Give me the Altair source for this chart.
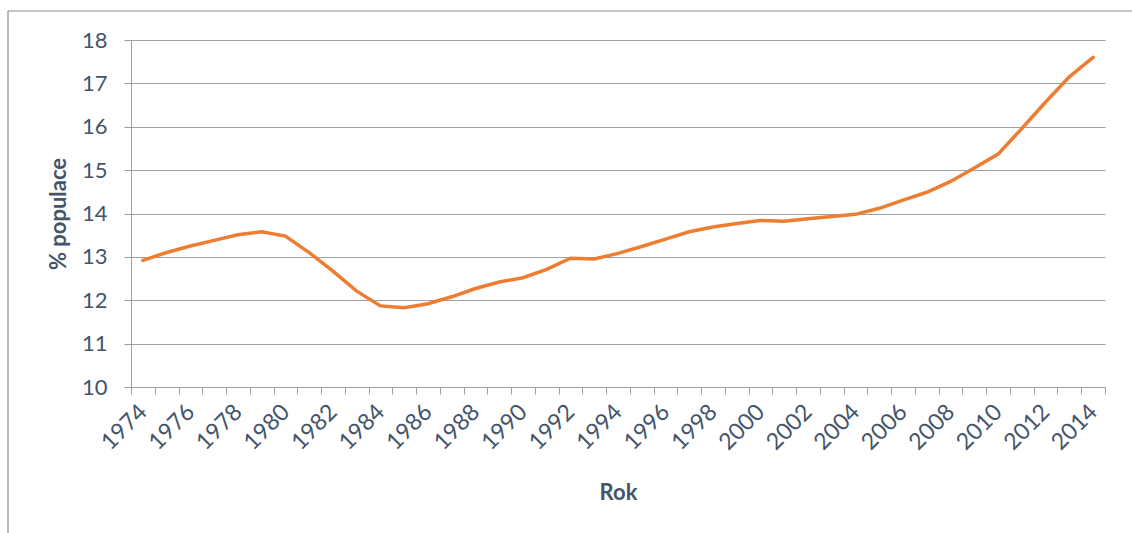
import altair as alt
import pandas as pd

# Share of population (%) by year
years = list(range(1974, 2015))
share = [
    12.92, 13.10, 13.25, 13.38, 13.51, 13.58, 13.48, 13.10, 12.67, 12.21,
    11.87, 11.83, 11.92, 12.08, 12.27, 12.42, 12.52, 12.71, 12.97, 12.95,
    13.08, 13.24, 13.41, 13.58, 13.69, 13.77, 13.84, 13.82, 13.88, 13.93,
    13.98, 14.12, 14.31, 14.49, 14.74, 15.05, 15.37, 15.96, 16.57, 17.15,
    17.60,
]
y_ticks = [10, 11, 12, 13, 14, 15, 16, 17, 18]

df = pd.DataFrame({"rok": years, "podil": share})

TEXT = "#44546A"
GRID = "#A0A0A0"
LINE = "#ED7D31"
FONT = "Lato"

x_enc = alt.X(
    "rok:O",
    title="Rok",
    bandPosition=0.5,
    scale=alt.Scale(type="band", paddingInner=0, paddingOuter=0),
    axis=alt.Axis(
        tickBand="extent",
        labelExpr="datum.value % 2 == 0 ? datum.label : ''",
        labelAngle=-45,
        labelAlign="right",
        labelBaseline="middle",
        labelOverlap=False,
        labelBound=False,
        labelPadding=14,
        labelFontSize=23,
        labelColor=TEXT,
        labelFont=FONT,
        tickSize=7,
        tickColor=GRID,
        domainColor=GRID,
        grid=False,
        titleFont=FONT,
        titleFontSize=22,
        titleFontWeight="bold",
        titleColor=TEXT,
        titleY=105,
        titleBaseline="middle",
    ),
)

y_enc = alt.Y(
    "podil:Q",
    title="% populace",
    scale=alt.Scale(domain=[10, 18], nice=False, zero=False),
    axis=alt.Axis(
        values=y_ticks,
        grid=True,
        gridColor=GRID,
        gridWidth=1.2,
        tickSize=7,
        tickColor=GRID,
        domainColor=GRID,
        labelPadding=17,
        labelFontSize=22,
        labelColor=TEXT,
        labelFont=FONT,
        titleFont=FONT,
        titleFontSize=22,
        titleFontWeight="bold",
        titleColor=TEXT,
        titleX=-73,
        titleBaseline="middle",
    ),
)

line = alt.Chart(df).mark_line(color=LINE, strokeWidth=3.5, strokeCap="round").encode(
    x=x_enc, y=y_enc
)

# Outer frame of the chart area (top and left edges)
frame_df = pd.DataFrame({"k": [0]})
frame_top = alt.Chart(frame_df).mark_rule(color="#8C8C8C", strokeWidth=1.2).encode(
    x=alt.value(-123), x2=alt.value(1010), y=alt.value(-29)
)
frame_left = alt.Chart(frame_df).mark_rule(color="#8C8C8C", strokeWidth=1.2).encode(
    x=alt.value(-123), y=alt.value(-29), y2=alt.value(500)
)

chart = (
    alt.layer(line, frame_top, frame_left)
    .properties(
        width=974,
        height=347,
        autosize=alt.AutoSizeParams(type="none"),
        padding={"left": 131, "top": 40, "right": 27, "bottom": 146},
        background="white",
    )
    .configure_view(stroke=None)
)

chart.save("out.html", embed_options={"renderer": "svg", "actions": False})
